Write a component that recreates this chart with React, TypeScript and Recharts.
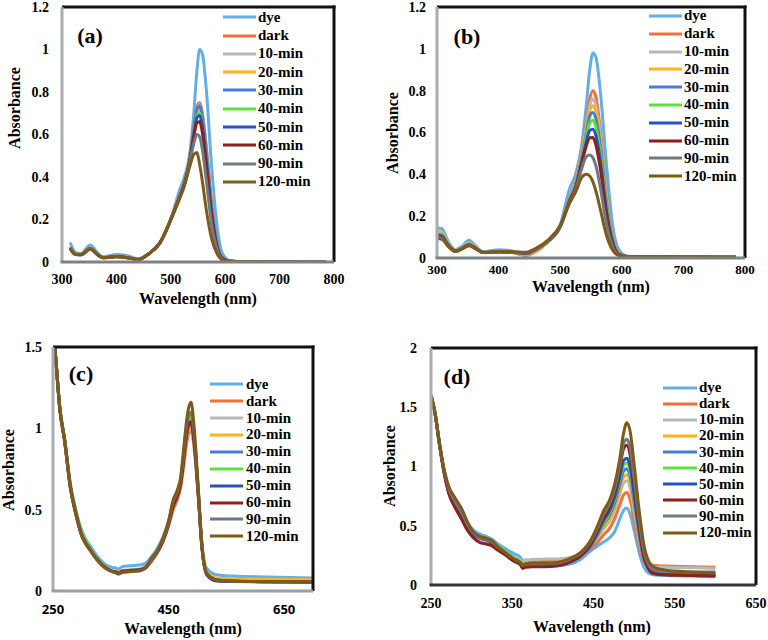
import React from 'react';
import { LineChart, Line, XAxis, YAxis, Legend } from 'recharts';

const SERIES_NAMES = ['dye', 'dark', '10-min', '20-min', '30-min', '40-min', '50-min', '60-min', '90-min', '120-min'];
const SERIES_COLORS = ['#62AEE9', '#F0703A', '#B8B8B8', '#FFB21E', '#4A7BD6', '#5CE03A', '#2452C8', '#8E1F1A', '#6C7A86', '#7D5A17'];

// ---------- Panel (a) ----------
const WL_A = [315, 325, 335, 352, 365, 375, 400, 420, 440, 460, 480, 500, 515, 525, 535, 542, 548, 553, 558, 565, 575, 585, 595, 610, 650, 785];
const A_DYE = [0.092, 0.045, 0.040, 0.080, 0.045, 0.025, 0.035, 0.030, 0.015, 0.040, 0.090, 0.200, 0.330, 0.400, 0.510, 0.690, 0.900, 1.000, 0.980, 0.820, 0.450, 0.170, 0.040, 0.005, 0.002, 0.000];
const A_DARK = [0.070, 0.038, 0.036, 0.065, 0.037, 0.022, 0.028, 0.022, 0.012, 0.040, 0.090, 0.200, 0.310, 0.380, 0.500, 0.630, 0.730, 0.750, 0.700, 0.550, 0.280, 0.090, 0.020, 0.004, 0.001, 0.000];
const A_10 = [0.068, 0.037, 0.035, 0.064, 0.036, 0.022, 0.027, 0.022, 0.012, 0.040, 0.090, 0.200, 0.310, 0.380, 0.495, 0.620, 0.720, 0.740, 0.690, 0.540, 0.270, 0.088, 0.020, 0.004, 0.001, 0.000];
const A_20 = [0.068, 0.037, 0.035, 0.063, 0.036, 0.021, 0.027, 0.021, 0.012, 0.040, 0.090, 0.200, 0.305, 0.375, 0.490, 0.610, 0.700, 0.720, 0.670, 0.520, 0.260, 0.085, 0.019, 0.004, 0.001, 0.000];
const A_30 = [0.067, 0.036, 0.035, 0.063, 0.036, 0.021, 0.027, 0.021, 0.012, 0.040, 0.090, 0.200, 0.305, 0.375, 0.492, 0.620, 0.720, 0.735, 0.685, 0.530, 0.265, 0.086, 0.019, 0.004, 0.001, 0.000];
const A_40 = [0.066, 0.036, 0.034, 0.062, 0.035, 0.021, 0.026, 0.021, 0.012, 0.040, 0.090, 0.200, 0.300, 0.370, 0.485, 0.600, 0.690, 0.700, 0.650, 0.500, 0.250, 0.080, 0.018, 0.004, 0.001, 0.000];
const A_50 = [0.066, 0.036, 0.034, 0.062, 0.035, 0.021, 0.026, 0.021, 0.012, 0.040, 0.090, 0.200, 0.300, 0.370, 0.482, 0.595, 0.680, 0.690, 0.640, 0.490, 0.240, 0.078, 0.018, 0.004, 0.001, 0.000];
const A_60 = [0.065, 0.035, 0.034, 0.062, 0.035, 0.020, 0.026, 0.020, 0.012, 0.040, 0.090, 0.200, 0.298, 0.365, 0.478, 0.585, 0.655, 0.660, 0.610, 0.460, 0.220, 0.070, 0.016, 0.003, 0.001, 0.000];
const A_90 = [0.065, 0.035, 0.034, 0.062, 0.035, 0.020, 0.025, 0.020, 0.012, 0.040, 0.090, 0.200, 0.295, 0.360, 0.470, 0.555, 0.600, 0.590, 0.530, 0.390, 0.180, 0.058, 0.013, 0.003, 0.001, 0.000];
const A_120 = [0.065, 0.035, 0.035, 0.062, 0.035, 0.020, 0.025, 0.020, 0.012, 0.040, 0.090, 0.200, 0.290, 0.360, 0.450, 0.505, 0.515, 0.460, 0.380, 0.250, 0.110, 0.040, 0.010, 0.003, 0.001, 0.000];

// ---------- Panel (b) ----------
const WL_B = [300, 308, 318, 330, 340, 352, 362, 375, 400, 420, 445, 460, 480, 500, 515, 525, 535, 542, 548, 553, 558, 565, 575, 585, 595, 610, 650, 785];
const B_DYE = [0.145, 0.140, 0.080, 0.040, 0.055, 0.085, 0.060, 0.030, 0.040, 0.035, 0.020, 0.040, 0.080, 0.160, 0.330, 0.400, 0.540, 0.720, 0.900, 0.980, 0.960, 0.800, 0.450, 0.160, 0.040, 0.008, 0.005, 0.004];
const B_DARK = [0.120, 0.115, 0.070, 0.035, 0.048, 0.070, 0.052, 0.028, 0.032, 0.028, 0.012, 0.030, 0.075, 0.150, 0.290, 0.370, 0.510, 0.640, 0.760, 0.800, 0.770, 0.620, 0.320, 0.110, 0.025, 0.006, 0.005, 0.004];
const B_10 = [0.130, 0.125, 0.072, 0.036, 0.050, 0.072, 0.054, 0.028, 0.032, 0.028, 0.015, 0.035, 0.078, 0.150, 0.285, 0.360, 0.500, 0.620, 0.730, 0.760, 0.730, 0.590, 0.300, 0.100, 0.024, 0.006, 0.005, 0.004];
const B_20 = [0.120, 0.115, 0.068, 0.035, 0.048, 0.068, 0.052, 0.028, 0.030, 0.028, 0.018, 0.038, 0.078, 0.150, 0.280, 0.355, 0.490, 0.605, 0.705, 0.728, 0.700, 0.565, 0.285, 0.095, 0.022, 0.006, 0.005, 0.004];
const B_30 = [0.115, 0.110, 0.066, 0.034, 0.047, 0.066, 0.050, 0.027, 0.030, 0.028, 0.020, 0.040, 0.080, 0.150, 0.278, 0.350, 0.480, 0.590, 0.680, 0.696, 0.665, 0.540, 0.270, 0.090, 0.021, 0.006, 0.005, 0.004];
const B_40 = [0.112, 0.108, 0.064, 0.034, 0.046, 0.064, 0.049, 0.027, 0.030, 0.028, 0.022, 0.040, 0.080, 0.150, 0.275, 0.345, 0.470, 0.572, 0.645, 0.658, 0.625, 0.505, 0.250, 0.084, 0.020, 0.006, 0.005, 0.004];
const B_50 = [0.110, 0.105, 0.062, 0.033, 0.045, 0.063, 0.048, 0.027, 0.030, 0.028, 0.022, 0.040, 0.080, 0.150, 0.272, 0.340, 0.462, 0.552, 0.610, 0.616, 0.585, 0.470, 0.230, 0.078, 0.019, 0.006, 0.005, 0.004];
const B_60 = [0.105, 0.100, 0.060, 0.032, 0.044, 0.062, 0.047, 0.026, 0.030, 0.028, 0.024, 0.042, 0.080, 0.150, 0.270, 0.335, 0.452, 0.532, 0.575, 0.576, 0.540, 0.430, 0.210, 0.070, 0.018, 0.006, 0.005, 0.004];
const B_90 = [0.100, 0.095, 0.058, 0.032, 0.043, 0.060, 0.046, 0.026, 0.030, 0.028, 0.025, 0.043, 0.080, 0.150, 0.265, 0.325, 0.428, 0.483, 0.492, 0.480, 0.440, 0.340, 0.165, 0.055, 0.015, 0.006, 0.005, 0.004];
const B_120 = [0.093, 0.090, 0.056, 0.031, 0.042, 0.058, 0.045, 0.026, 0.030, 0.030, 0.028, 0.045, 0.085, 0.155, 0.260, 0.315, 0.385, 0.400, 0.392, 0.365, 0.320, 0.235, 0.110, 0.038, 0.012, 0.006, 0.005, 0.004];

// ---------- Panel (c) ----------
const WL_C = [250, 255, 262, 270, 280, 290, 300, 308, 315, 325, 340, 352, 360, 363, 370, 385, 400, 410, 420, 430, 440, 450, 458, 465, 471, 476, 481, 485, 489, 493, 497, 502, 507, 516, 533, 560, 620, 700];
const C_DYE = [1.65, 1.42, 1.12, 0.94, 0.66, 0.49, 0.37, 0.31, 0.275, 0.22, 0.165, 0.145, 0.14, 0.135, 0.15, 0.155, 0.16, 0.17, 0.21, 0.26, 0.33, 0.43, 0.54, 0.60, 0.67, 0.80, 0.95, 1.03, 1.06, 0.98, 0.82, 0.58, 0.33, 0.14, 0.10, 0.092, 0.086, 0.08];
const C_DARK = [1.65, 1.42, 1.11, 0.92, 0.63, 0.46, 0.335, 0.28, 0.245, 0.195, 0.14, 0.12, 0.115, 0.11, 0.12, 0.125, 0.13, 0.14, 0.18, 0.23, 0.30, 0.40, 0.50, 0.56, 0.64, 0.76, 0.90, 0.97, 0.99, 0.92, 0.78, 0.55, 0.30, 0.11, 0.075, 0.07, 0.068, 0.065];
const C_10 = [1.65, 1.42, 1.12, 0.93, 0.65, 0.48, 0.35, 0.295, 0.26, 0.205, 0.15, 0.125, 0.12, 0.115, 0.125, 0.13, 0.135, 0.15, 0.19, 0.24, 0.31, 0.42, 0.53, 0.60, 0.67, 0.81, 0.97, 1.04, 1.05, 0.97, 0.82, 0.57, 0.31, 0.11, 0.07, 0.064, 0.06, 0.058];
const C_20 = [1.65, 1.42, 1.11, 0.92, 0.64, 0.47, 0.34, 0.285, 0.25, 0.20, 0.145, 0.122, 0.117, 0.112, 0.122, 0.127, 0.132, 0.145, 0.185, 0.235, 0.305, 0.41, 0.52, 0.58, 0.65, 0.78, 0.93, 0.99, 1.00, 0.93, 0.79, 0.56, 0.31, 0.115, 0.08, 0.075, 0.072, 0.07];
const C_30 = [1.65, 1.42, 1.12, 0.93, 0.645, 0.475, 0.345, 0.29, 0.255, 0.203, 0.147, 0.123, 0.118, 0.113, 0.123, 0.128, 0.133, 0.147, 0.19, 0.24, 0.31, 0.42, 0.54, 0.60, 0.68, 0.82, 0.99, 1.06, 1.08, 0.99, 0.83, 0.58, 0.31, 0.11, 0.068, 0.062, 0.058, 0.056];
const C_40 = [1.65, 1.42, 1.12, 0.94, 0.66, 0.49, 0.355, 0.30, 0.26, 0.205, 0.148, 0.124, 0.118, 0.113, 0.123, 0.128, 0.133, 0.147, 0.19, 0.24, 0.31, 0.42, 0.54, 0.60, 0.68, 0.82, 0.98, 1.05, 1.07, 0.98, 0.83, 0.58, 0.31, 0.11, 0.068, 0.062, 0.058, 0.056];
const C_50 = [1.65, 1.42, 1.11, 0.93, 0.645, 0.475, 0.342, 0.287, 0.252, 0.20, 0.146, 0.122, 0.116, 0.111, 0.121, 0.126, 0.131, 0.145, 0.188, 0.238, 0.307, 0.41, 0.53, 0.59, 0.66, 0.80, 0.95, 1.02, 1.03, 0.95, 0.80, 0.56, 0.30, 0.10, 0.062, 0.058, 0.056, 0.055];
const C_60 = [1.65, 1.42, 1.11, 0.93, 0.64, 0.47, 0.34, 0.285, 0.25, 0.20, 0.145, 0.121, 0.115, 0.11, 0.12, 0.125, 0.13, 0.144, 0.186, 0.236, 0.305, 0.41, 0.52, 0.58, 0.66, 0.80, 0.96, 1.03, 1.04, 0.96, 0.81, 0.57, 0.30, 0.105, 0.065, 0.06, 0.057, 0.055];
const C_90 = [1.65, 1.42, 1.12, 0.93, 0.64, 0.47, 0.34, 0.285, 0.25, 0.20, 0.145, 0.12, 0.11, 0.105, 0.115, 0.12, 0.125, 0.14, 0.19, 0.24, 0.315, 0.42, 0.55, 0.61, 0.69, 0.84, 1.01, 1.08, 1.10, 1.01, 0.85, 0.59, 0.31, 0.11, 0.068, 0.06, 0.057, 0.055];
const C_120 = [1.65, 1.42, 1.12, 0.93, 0.64, 0.47, 0.34, 0.285, 0.25, 0.20, 0.145, 0.12, 0.11, 0.105, 0.115, 0.12, 0.125, 0.14, 0.20, 0.245, 0.32, 0.43, 0.56, 0.62, 0.70, 0.87, 1.04, 1.13, 1.16, 1.06, 0.88, 0.60, 0.31, 0.11, 0.07, 0.062, 0.058, 0.055];

// ---------- Panel (d) ----------
const WL_D = [250, 255, 260, 266, 272, 280, 288, 295, 302, 310, 318, 325, 333, 342, 352, 360, 363, 366, 375, 390, 405, 420, 435, 445, 455, 462, 470, 476, 482, 487, 491, 495, 500, 506, 512, 518, 525, 540, 570, 600];
const D_DYE = [1.60, 1.45, 1.21, 0.97, 0.80, 0.68, 0.59, 0.52, 0.465, 0.43, 0.41, 0.385, 0.345, 0.305, 0.265, 0.235, 0.20, 0.21, 0.20, 0.18, 0.165, 0.175, 0.22, 0.28, 0.33, 0.36, 0.40, 0.45, 0.55, 0.63, 0.65, 0.60, 0.46, 0.28, 0.15, 0.10, 0.085, 0.08, 0.075, 0.07];
const D_DARK = [1.60, 1.45, 1.21, 0.96, 0.79, 0.67, 0.58, 0.49, 0.43, 0.395, 0.375, 0.35, 0.31, 0.27, 0.22, 0.19, 0.16, 0.17, 0.19, 0.20, 0.20, 0.21, 0.25, 0.30, 0.36, 0.42, 0.48, 0.56, 0.67, 0.76, 0.78, 0.72, 0.55, 0.34, 0.20, 0.17, 0.165, 0.16, 0.155, 0.15];
const D_10 = [1.60, 1.45, 1.21, 0.96, 0.79, 0.67, 0.58, 0.50, 0.44, 0.40, 0.385, 0.36, 0.32, 0.28, 0.235, 0.21, 0.19, 0.21, 0.215, 0.22, 0.22, 0.23, 0.27, 0.32, 0.40, 0.47, 0.54, 0.63, 0.76, 0.86, 0.88, 0.82, 0.62, 0.38, 0.22, 0.17, 0.155, 0.15, 0.145, 0.14];
const D_20 = [1.60, 1.45, 1.21, 0.96, 0.79, 0.67, 0.58, 0.50, 0.44, 0.40, 0.385, 0.36, 0.315, 0.275, 0.225, 0.195, 0.17, 0.18, 0.18, 0.18, 0.18, 0.20, 0.25, 0.31, 0.41, 0.49, 0.56, 0.66, 0.80, 0.91, 0.93, 0.87, 0.66, 0.40, 0.22, 0.15, 0.12, 0.11, 0.105, 0.10];
const D_30 = [1.60, 1.45, 1.21, 0.96, 0.78, 0.66, 0.57, 0.49, 0.43, 0.395, 0.38, 0.355, 0.31, 0.27, 0.22, 0.19, 0.165, 0.175, 0.175, 0.175, 0.175, 0.20, 0.25, 0.31, 0.42, 0.51, 0.59, 0.69, 0.84, 0.96, 0.98, 0.92, 0.70, 0.42, 0.22, 0.14, 0.105, 0.095, 0.09, 0.085];
const D_40 = [1.60, 1.45, 1.21, 0.96, 0.79, 0.67, 0.58, 0.50, 0.44, 0.41, 0.40, 0.375, 0.325, 0.28, 0.23, 0.195, 0.17, 0.18, 0.18, 0.18, 0.18, 0.205, 0.255, 0.32, 0.43, 0.52, 0.61, 0.72, 0.88, 1.01, 1.03, 0.96, 0.73, 0.44, 0.23, 0.145, 0.11, 0.10, 0.095, 0.09];
const D_50 = [1.60, 1.45, 1.21, 0.96, 0.78, 0.66, 0.57, 0.49, 0.43, 0.395, 0.38, 0.355, 0.31, 0.265, 0.215, 0.185, 0.16, 0.165, 0.165, 0.165, 0.165, 0.19, 0.25, 0.32, 0.44, 0.54, 0.63, 0.74, 0.90, 1.05, 1.07, 1.00, 0.76, 0.46, 0.23, 0.14, 0.10, 0.09, 0.085, 0.08];
const D_60 = [1.60, 1.45, 1.20, 0.95, 0.77, 0.65, 0.55, 0.46, 0.40, 0.36, 0.345, 0.33, 0.29, 0.25, 0.20, 0.17, 0.14, 0.15, 0.155, 0.155, 0.16, 0.19, 0.25, 0.33, 0.46, 0.56, 0.66, 0.78, 0.96, 1.15, 1.18, 1.10, 0.84, 0.50, 0.25, 0.13, 0.095, 0.085, 0.08, 0.075];
const D_90 = [1.60, 1.45, 1.21, 0.97, 0.81, 0.70, 0.61, 0.51, 0.44, 0.40, 0.385, 0.365, 0.315, 0.27, 0.22, 0.19, 0.165, 0.175, 0.18, 0.18, 0.185, 0.215, 0.27, 0.35, 0.48, 0.59, 0.69, 0.81, 1.00, 1.19, 1.23, 1.16, 0.90, 0.56, 0.29, 0.17, 0.125, 0.115, 0.11, 0.11];
const D_120 = [1.60, 1.45, 1.22, 0.98, 0.83, 0.73, 0.64, 0.53, 0.45, 0.41, 0.395, 0.375, 0.32, 0.27, 0.22, 0.19, 0.165, 0.18, 0.185, 0.185, 0.19, 0.22, 0.28, 0.36, 0.50, 0.62, 0.72, 0.85, 1.05, 1.28, 1.37, 1.30, 1.02, 0.64, 0.34, 0.20, 0.15, 0.125, 0.11, 0.10];

// ---------- Axis ticks ----------
const X_TICKS_AB = [300, 400, 500, 600, 700, 800];
const Y_TICKS_AB = [0, 0.2, 0.4, 0.6, 0.8, 1, 1.2];
const X_TICKS_C = [250, 450, 650];
const Y_TICKS_C = [0, 0.5, 1, 1.5];
const X_TICKS_D = [250, 350, 450, 550, 650];
const Y_TICKS_D = [0, 0.5, 1, 1.5, 2];

const SERIF = "'Liberation Serif', 'Times New Roman', serif";
const X_AXIS_HEIGHT = 30;

function buildRows(wl: number[], series: number[][]) {
  return wl.map((w, i) => {
    const row: Record<string, number> = { wl: w };
    series.forEach((s, k) => {
      row['s' + k] = s[i];
    });
    return row;
  });
}

type PanelProps = {
  box: { left: number; top: number; width: number; height: number };
  margin: { top: number; right: number; bottom: number; left: number };
  yWidth: number;
  xDomain: [number, number];
  xTicks: number[];
  yDomain: [number, number];
  yTicks: number[];
  xTickMargin: number;
  yTickMargin: number;
  bottomColor: string;
  xTickFont: string;
  xTickSize: number;
  yTickSize: number;
  tag: string;
  tagPos: [number, number];
  legend: { x: number; y: number; spacing: number; lineLen: number; gap: number; fontSize: number };
  yTitle: [number, number];
  xTitle: [number, number];
  wl: number[];
  series: number[][];
};

function plotRect(p: PanelProps) {
  const l = p.box.left + p.margin.left + p.yWidth;
  const t = p.box.top + p.margin.top;
  const r = p.box.left + p.box.width - p.margin.right;
  const b = p.box.top + p.box.height - p.margin.bottom - X_AXIS_HEIGHT;
  return { l, t, r, b };
}

function Panel(p: PanelProps) {
  const rows = buildRows(p.wl, p.series);
  const lg = p.legend;
  return (
    <>
      <div style={{ position: 'absolute', left: p.box.left, top: p.box.top, width: p.box.width, height: p.box.height }}>
        <LineChart width={p.box.width} height={p.box.height} data={rows} margin={p.margin}>
          <XAxis
            dataKey="wl"
            type="number"
            domain={p.xDomain}
            ticks={p.xTicks}
            allowDataOverflow
            height={X_AXIS_HEIGHT}
            tickLine={false}
            tickSize={0}
            tickMargin={p.xTickMargin}
            axisLine={{ stroke: p.bottomColor, strokeWidth: 2 }}
            stroke={p.bottomColor}
            tick={{ fill: '#000', fontFamily: p.xTickFont, fontWeight: 700, fontSize: p.xTickSize }}
            interval={0}
          />
          <YAxis
            type="number"
            domain={p.yDomain}
            ticks={p.yTicks}
            allowDataOverflow
            width={p.yWidth}
            tickLine={false}
            tickSize={0}
            tickMargin={p.yTickMargin}
            axisLine={{ stroke: '#a7adb3', strokeWidth: 2 }}
            stroke="#a7adb3"
            tick={{ fill: '#000', fontFamily: SERIF, fontWeight: 700, fontSize: p.yTickSize }}
            interval={0}
          />
          {SERIES_NAMES.map((name, k) => (
            <Line
              key={name}
              name={name}
              dataKey={'s' + k}
              type="monotone"
              stroke={SERIES_COLORS[k]}
              strokeWidth={3}
              dot={false}
              activeDot={false}
              isAnimationActive={false}
            />
          ))}
          <Legend
            layout="vertical"
            align="center"
            verticalAlign="middle"
            wrapperStyle={{ left: lg.x - p.box.left, top: lg.y - p.box.top - lg.spacing / 2, width: 'auto', right: 'auto', bottom: 'auto' }}
            content={() => (
              <div style={{ fontFamily: SERIF, fontWeight: 700, color: '#000' }}>
                {SERIES_NAMES.map((name, k) => (
                  <div key={name} style={{ display: 'flex', alignItems: 'center', height: lg.spacing }}>
                    <svg width={lg.lineLen} height={6} style={{ display: 'block' }}>
                      <line x1={0} y1={3} x2={lg.lineLen} y2={3} stroke={SERIES_COLORS[k]} strokeWidth={3} />
                    </svg>
                    <span style={{ marginLeft: lg.gap, fontSize: lg.fontSize, lineHeight: 1, whiteSpace: 'nowrap' }}>{name}</span>
                  </div>
                ))}
              </div>
            )}
          />
        </LineChart>
      </div>
      <div style={{ position: 'absolute', left: p.tagPos[0], top: p.tagPos[1], transform: 'translate(-50%, -50%)', fontFamily: SERIF, fontWeight: 700, fontSize: 22, lineHeight: 1, whiteSpace: 'nowrap' }}>{p.tag}</div>
      <div style={{ position: 'absolute', left: p.yTitle[0], top: p.yTitle[1], transform: 'translate(-50%, -50%) rotate(-90deg)', fontFamily: SERIF, fontWeight: 700, fontSize: 16, lineHeight: 1, whiteSpace: 'nowrap' }}>Absorbance</div>
      <div style={{ position: 'absolute', left: p.xTitle[0], top: p.xTitle[1], transform: 'translate(-50%, -50%)', fontFamily: SERIF, fontWeight: 700, fontSize: 16, lineHeight: 1, whiteSpace: 'nowrap' }}>Wavelength (nm)</div>
    </>
  );
}

const PANELS: PanelProps[] = [
  {
    box: { left: 0, top: 0, width: 384, height: 300 },
    margin: { top: 7, right: 50, bottom: 8, left: 12 },
    yWidth: 50,
    xDomain: [300, 800],
    xTicks: X_TICKS_AB,
    yDomain: [0, 1.2],
    yTicks: Y_TICKS_AB,
    xTickMargin: 12,
    yTickMargin: 13,
    bottomColor: '#7d8287',
    xTickFont: SERIF,
    xTickSize: 14,
    yTickSize: 14,
    tag: '(a)',
    tagPos: [90, 36],
    legend: { x: 223, y: 17.3, spacing: 18.3, lineLen: 33, gap: 2, fontSize: 15 },
    yTitle: [15, 108],
    xTitle: [198, 299],
    wl: WL_A,
    series: [A_DYE, A_DARK, A_10, A_20, A_30, A_40, A_50, A_60, A_90, A_120],
  },
  {
    box: { left: 384, top: 0, width: 384, height: 300 },
    margin: { top: 7, right: 23, bottom: 12, left: 3 },
    yWidth: 50,
    xDomain: [300, 800],
    xTicks: X_TICKS_AB,
    yDomain: [0, 1.2],
    yTicks: Y_TICKS_AB,
    xTickMargin: 7,
    yTickMargin: 11,
    bottomColor: '#7d8287',
    xTickFont: SERIF,
    xTickSize: 13,
    yTickSize: 14,
    tag: '(b)',
    tagPos: [467, 37],
    legend: { x: 649, y: 16, spacing: 17.8, lineLen: 33, gap: 2, fontSize: 15 },
    yTitle: [393, 133],
    xTitle: [591, 287],
    wl: WL_B,
    series: [B_DYE, B_DARK, B_10, B_20, B_30, B_40, B_50, B_60, B_90, B_120],
  },
  {
    box: { left: 0, top: 300, width: 384, height: 340 },
    margin: { top: 47, right: 71, bottom: 19, left: 3 },
    yWidth: 50,
    xDomain: [250, 700],
    xTicks: X_TICKS_C,
    yDomain: [0, 1.5],
    yTicks: Y_TICKS_C,
    xTickMargin: 14,
    yTickMargin: 11,
    bottomColor: '#9aa0a6',
    xTickFont: "'Open Sans', 'Liberation Sans', sans-serif",
    xTickSize: 13,
    yTickSize: 14,
    tag: '(c)',
    tagPos: [81, 374],
    legend: { x: 210, y: 384.3, spacing: 16.9, lineLen: 33, gap: 3, fontSize: 15 },
    yTitle: [9, 470],
    xTitle: [183, 629],
    wl: WL_C,
    series: [C_DYE, C_DARK, C_10, C_20, C_30, C_40, C_50, C_60, C_90, C_120],
  },
  {
    box: { left: 384, top: 300, width: 384, height: 340 },
    margin: { top: 48, right: 12, bottom: 25, left: 3 },
    yWidth: 44,
    xDomain: [250, 650],
    xTicks: X_TICKS_D,
    yDomain: [0, 2],
    yTicks: Y_TICKS_D,
    xTickMargin: 13,
    yTickMargin: 14,
    bottomColor: '#333',
    xTickFont: SERIF,
    xTickSize: 14,
    yTickSize: 14,
    tag: '(d)',
    tagPos: [457, 377],
    legend: { x: 663, y: 387.7, spacing: 16.1, lineLen: 34, gap: 2, fontSize: 15 },
    yTitle: [390, 466],
    xTitle: [592, 627],
    wl: WL_D,
    series: [D_DYE, D_DARK, D_10, D_20, D_30, D_40, D_50, D_60, D_90, D_120],
  },
];

export default function App() {
  return (
    <div style={{ position: 'absolute', left: 0, top: 0, width: 768, height: 640, background: '#fff', overflow: 'hidden' }}>
      {PANELS.map((p) => (
        <Panel key={p.tag} {...p} />
      ))}
      {/* plot-area frames */}
      <svg width={768} height={640} style={{ position: 'absolute', left: 0, top: 0, pointerEvents: 'none' }}>
        {PANELS.map((p) => {
          const r = plotRect(p);
          return (
            <g key={p.tag}>
              <rect x={r.l} y={r.t - 1.5} width={r.r - r.l + 1.5} height={3} fill="#111" />
              <rect x={r.r - 1.5} y={r.t - 1.5} width={3} height={r.b - r.t + 1.5} fill="#111" />
              <rect x={r.l - 1.5} y={r.t} width={3} height={r.b - r.t} fill="#a7adb3" />
              <rect x={r.l - 1.5} y={r.b - 1.5} width={r.r - r.l + 1.5} height={3} fill={p.bottomColor} />
            </g>
          );
        })}
      </svg>
    </div>
  );
}
